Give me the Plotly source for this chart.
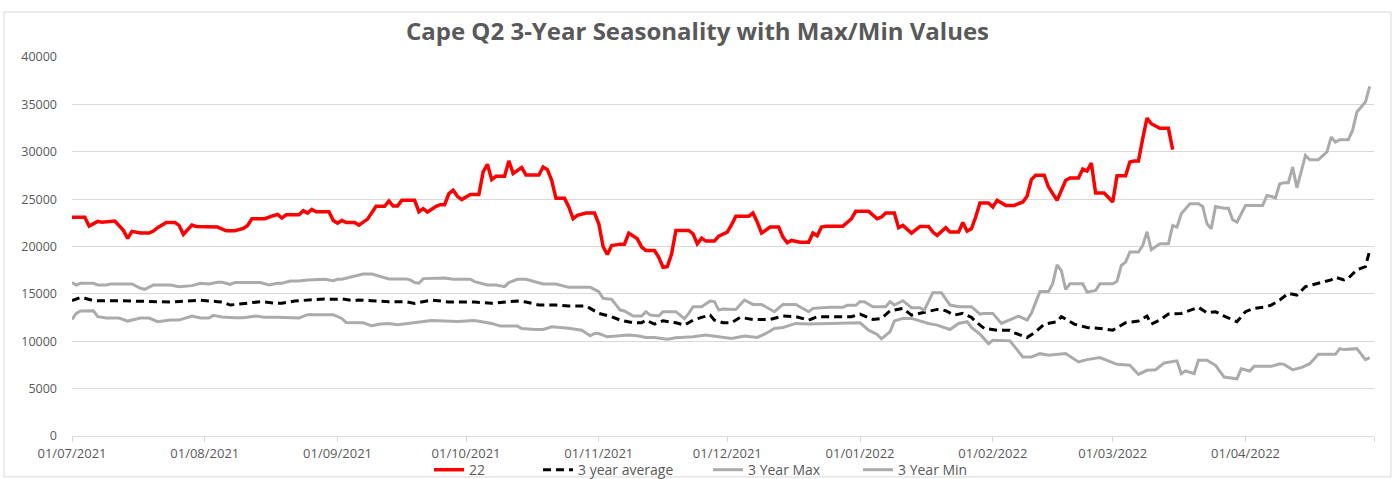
import pandas as pd
import plotly.graph_objects as go

START = "2021-07-01"  # day 0 of the season axis

# ---- series "22" (days since START, value) ----
red_days = [0, 3, 4, 6, 7, 9, 10, 12, 13, 14, 16, 18, 19, 20, 22, 24, 25, 26, 28, 29, 33, 34, 36, 38, 40, 41, 42, 45,
            47, 48, 49, 50, 53, 54, 55, 56, 57, 60, 61, 62, 63, 64, 66, 67, 69, 71, 73, 74, 75, 76, 77, 80, 81, 82, 83,
            85, 86, 87, 88, 89, 90, 91, 93, 95, 96, 97, 98, 99, 101, 102, 103, 104, 105, 106, 109, 110, 111, 112, 113,
            115, 116, 117, 118, 120, 122, 123, 124, 125, 126, 128, 129, 130, 132, 133, 134, 136, 137, 138, 139, 140,
            141, 144, 145, 146, 147, 148, 150, 151, 153, 154, 155, 158, 159, 160, 161, 163, 165, 166, 167, 168, 170,
            172, 173, 174, 175, 176, 180, 182, 183, 186, 188, 189, 190, 192, 193, 194, 195, 196, 198, 200, 201, 202,
            204, 205, 207, 208, 209, 210, 211, 212, 214, 215, 216, 218, 220, 222, 223, 224, 225, 227, 228, 229, 230,
            232, 233, 235, 236, 237, 238, 239, 241, 243, 244, 246, 247, 248, 249, 250, 251, 252, 254, 256, 257]
red_vals = [23100, 23100, 22150, 22650, 22550, 22680, 22680, 21700, 20850, 21600, 21420, 21420, 21630, 21980, 22540,
            22540, 22230, 21280, 22260, 22120, 22120, 22050, 21660, 21660, 21900, 22220, 22930, 22930, 23250, 23390,
            23000, 23350, 23350, 23780, 23530, 23920, 23670, 23670, 22750, 22470, 22750, 22540, 22540, 22260, 22890,
            24240, 24240, 24800, 24270, 24270, 24870, 24870, 23670, 23990, 23640, 24240, 24410, 24410, 25580, 25930,
            25300, 24950, 25480, 25480, 27870, 28680, 27060, 27410, 27410, 29040, 27700, 28050, 28330, 27550, 27550,
            28400, 28120, 26990, 25080, 25080, 24170, 22930, 23280, 23530, 23530, 22400, 20000, 19150, 20100, 20250,
            20250, 21410, 20810, 19930, 19580, 19580, 18870, 17810, 17880, 19220, 21690, 21690, 21340, 20280, 20880,
            20570, 20570, 21100, 21520, 22300, 23180, 23180, 23530, 22580, 21410, 22050, 22050, 20990, 20390, 20640,
            20460, 20460, 21410, 21130, 22050, 22150, 22150, 22930, 23710, 23710, 22930, 23110, 23530, 23530, 21980,
            22220, 21760, 21410, 22120, 22120, 21520, 21170, 21980, 21520, 21520, 22540, 21620, 21870, 23110, 24590,
            24590, 24170, 24870, 24340, 24340, 24700, 25300, 27060, 27520, 27520, 26280, 25500, 24870, 26970, 27220,
            27220, 28170, 27960, 28800, 25640, 25640, 24690, 27470, 27470, 28910, 29020, 29020, 31380, 33560, 32960,
            32470, 32470, 30220]

# ---- 3 year average ----
avg_days = [0, 2, 3, 5, 11, 13, 16, 19, 23, 27, 30, 34, 35, 37, 41, 44, 48, 49, 52, 55, 59, 62, 63, 66, 67, 70, 74, 78,
            80, 84, 88, 94, 98, 104, 106, 109, 113, 116, 120, 121, 123, 126, 128, 131, 133, 134, 136, 138, 141, 143,
            145, 147, 149, 150, 152, 154, 156, 159, 163, 166, 169, 172, 174, 182, 184, 187, 189, 191, 194, 196, 198,
            202, 204, 206, 208, 210, 211, 213, 216, 219, 220, 223, 225, 227, 230, 231, 234, 237, 240, 243, 246, 249,
            251, 252, 254, 256, 259, 261, 263, 265, 267, 269, 271, 272, 274, 276, 279, 280, 282, 284, 286, 288, 291,
            294, 295, 297, 298, 300, 302, 303]
avg_vals = [14280, 14630, 14530, 14280, 14280, 14250, 14250, 14140, 14140, 14250, 14320, 14180, 14140, 13820, 14070,
            14180, 14000, 14000, 14250, 14350, 14460, 14420, 14460, 14280, 14350, 14280, 14180, 14180, 14000, 14350,
            14140, 14140, 14000, 14250, 14140, 13820, 13820, 13720, 13720, 13470, 12940, 12590, 12230, 11950, 11950,
            12230, 11810, 12160, 11950, 11700, 12230, 12520, 12760, 12230, 11950, 11950, 12520, 12300, 12300, 12660,
            12590, 12230, 12590, 12590, 12870, 12300, 12410, 13220, 13470, 12760, 12940, 13360, 13220, 12760, 12940,
            12520, 12060, 11350, 11170, 11170, 10890, 10400, 11000, 11810, 12060, 12600, 11810, 11460, 11350, 11170,
            11950, 12130, 12660, 11810, 12230, 12870, 12940, 13220, 13580, 13010, 13120, 12660, 12300, 12060, 13120,
            13470, 13650, 13820, 14350, 15060, 14880, 15760, 16120, 16470, 16750, 16470, 16650, 17530, 17880, 19580]

# ---- 3 Year Max ----
max_days = [0, 1, 2, 5, 6, 8, 9, 14, 16, 17, 19, 23, 25, 27, 28, 30, 32, 34, 35, 37, 38, 44, 46, 48, 49, 51, 53, 55,
            58, 59, 61, 62, 63, 65, 66, 68, 70, 73, 74, 78, 79, 80, 81, 82, 86, 87, 89, 93, 94, 97, 99, 101, 102, 104,
            106, 109, 110, 113, 115, 116, 121, 123, 124, 126, 128, 129, 131, 133, 134, 135, 137, 138, 141, 143, 144,
            145, 147, 149, 150, 151, 152, 155, 157, 159, 161, 164, 166, 169, 172, 173, 177, 180, 181, 183, 184, 185,
            187, 190, 191, 192, 194, 196, 198, 199, 201, 203, 205, 207, 210, 212, 213, 215, 217, 219, 221, 223, 224,
            226, 228, 229, 230, 231, 232, 233, 236, 237, 239, 240, 243, 244, 245, 246, 247, 249, 250, 251, 252, 254,
            256, 257, 258, 259, 261, 263, 264, 265, 266, 267, 269, 270, 271, 272, 274, 278, 279, 280, 281, 282, 283,
            284, 285, 286, 287, 288, 289, 291, 293, 294, 295, 296, 298, 299, 300, 302, 303]
max_vals = [16190, 15940, 16120, 16120, 15940, 15940, 16050, 16050, 15590, 15480, 15940, 15940, 15760, 15870, 15870,
            16120, 16050, 16220, 16220, 16010, 16190, 16190, 15940, 16120, 16120, 16360, 16360, 16470, 16470, 16540,
            16400, 16540, 16540, 16750, 16890, 17100, 17100, 16650, 16580, 16580, 16470, 16190, 16120, 16610, 16610,
            16680, 16540, 16540, 16290, 15940, 15940, 15760, 16190, 16540, 16540, 16190, 16050, 16050, 15760, 15690,
            15690, 15230, 14530, 14420, 13290, 13190, 12660, 12660, 13120, 12760, 12660, 13120, 13120, 12380, 12940,
            13650, 13650, 14250, 14180, 13290, 13400, 13360, 14350, 13890, 13890, 13120, 13890, 13890, 13120, 13470,
            13580, 13580, 13790, 13790, 14180, 14180, 13650, 13650, 14180, 13820, 14280, 13540, 13540, 13290, 15130,
            15130, 13820, 13650, 13650, 12870, 12940, 12940, 11880, 12300, 12660, 12230, 12940, 15240, 15240, 16100,
            18060, 17470, 15460, 16060, 16060, 15180, 15360, 16060, 16060, 16340, 18000, 18350, 19410, 19410, 20110,
            21550, 19650, 20290, 20290, 22220, 22050, 23450, 24510, 24510, 24230, 22400, 21870, 24230, 24050, 24050,
            22820, 22570, 24330, 24330, 25390, 25280, 25140, 26620, 26730, 26730, 28380, 26200, 28030, 29610, 29160,
            29160, 29970, 31550, 31020, 31270, 31270, 32250, 34190, 35250, 36900]

# ---- 3 Year Min ----
min_days = [0, 1, 2, 4, 5, 6, 8, 11, 13, 16, 18, 20, 23, 25, 28, 30, 32, 33, 35, 38, 40, 43, 45, 48, 52, 53, 55, 61,
            63, 64, 68, 70, 72, 74, 76, 80, 84, 90, 94, 98, 100, 104, 105, 108, 110, 112, 116, 119, 121, 122, 123, 125,
            128, 130, 132, 134, 136, 139, 141, 145, 148, 150, 152, 154, 157, 160, 162, 164, 166, 168, 169, 172, 183,
            184, 186, 188, 189, 191, 192, 194, 196, 198, 200, 202, 205, 207, 209, 210, 212, 214, 215, 219, 220, 222,
            224, 226, 228, 232, 235, 237, 240, 244, 247, 249, 251, 253, 255, 258, 259, 260, 262, 263, 265, 267, 269,
            272, 273, 275, 276, 280, 282, 283, 285, 287, 289, 291, 295, 296, 297, 299, 300, 302, 303]
min_vals = [12300, 12940, 13190, 13190, 13220, 12590, 12450, 12450, 12130, 12450, 12450, 12060, 12230, 12230, 12660,
            12450, 12450, 12730, 12550, 12480, 12480, 12660, 12520, 12520, 12450, 12450, 12800, 12800, 12410, 11990,
            11950, 11630, 11810, 11880, 11750, 11950, 12200, 12090, 12200, 11880, 11600, 11600, 11350, 11240, 11240,
            11520, 11380, 11170, 10570, 10820, 10820, 10470, 10540, 10650, 10570, 10400, 10400, 10220, 10360, 10470,
            10650, 10540, 10400, 10290, 10540, 10400, 10820, 11350, 11450, 11700, 11880, 11810, 11880, 11950, 11170,
            10720, 10260, 11000, 12130, 12410, 12410, 12130, 11880, 11700, 11240, 11880, 12060, 11450, 10750, 9750,
            10110, 10040, 9470, 8340, 8340, 8690, 8520, 8700, 7820, 8060, 8270, 7560, 7460, 6500, 6930, 7000, 7710,
            7930, 6580, 6860, 6580, 8000, 8000, 7460, 6220, 6040, 7100, 6860, 7350, 7350, 7630, 7560, 7000, 7210,
            7630, 8620, 8620, 9220, 9120, 9220, 9220, 8060, 8270]

Y_TICKS = list(range(0, 40001, 5000))
X_END = "2022-05-01"
TITLE = "Cape Q2 3-Year Seasonality with Max/Min Values"


def to_dates(days):
    return pd.Timestamp(START) + pd.to_timedelta(days, unit="D")


FONT = "Open Sans"
GRID = "#d9d9d9"
TXT = "#595959"
GREY = "#ababab"

fig = go.Figure()
fig.add_trace(go.Scatter(x=to_dates(red_days), y=red_vals, name="22", mode="lines", legend="legend",
                         line=dict(color="#ff0000", width=3.5)))
fig.add_trace(go.Scatter(x=to_dates(avg_days), y=avg_vals, name="3 year average", mode="lines", legend="legend2",
                         line=dict(color="#000000", width=3, dash="8px,5px")))
fig.add_trace(go.Scatter(x=to_dates(max_days), y=max_vals, name="3 Year Max", mode="lines", legend="legend3",
                         line=dict(color=GREY, width=3)))
fig.add_trace(go.Scatter(x=to_dates(min_days), y=min_vals, name="3 Year Min", mode="lines", legend="legend4",
                         line=dict(color=GREY, width=3)))


def legend_box(xpos):
    return dict(orientation="h", x=xpos, xanchor="left", y=-0.09, yanchor="middle",
                bgcolor="rgba(0,0,0,0)", font=dict(family=FONT, size=14, color=TXT))


fig.update_layout(
    width=1395, height=479,
    margin=dict(l=72, r=21, t=57, b=43, autoexpand=False),
    paper_bgcolor="white", plot_bgcolor="white",
    font=dict(family=FONT, size=13, color=TXT),
    title=dict(text="<b>" + TITLE + "</b>", x=0.5, xanchor="center", y=0.933, yanchor="middle",
               font=dict(family=FONT, size=24, color=TXT)),
    showlegend=True,
    legend=legend_box(0.2742),
    legend2=legend_box(0.3579),
    legend3=legend_box(0.4885),
    legend4=legend_box(0.6037),
)
fig.update_xaxes(
    type="date", range=[START, X_END], tick0=START, dtick="M1", tickformat="%d/%m/%Y",
    showgrid=False, showline=True, linecolor=GRID, linewidth=1,
    ticks="outside", ticklen=5, tickcolor=GRID, tickfont=dict(size=13, color=TXT),
    zeroline=False, automargin=False,
)
fig.update_yaxes(
    range=[0, 40000], tickvals=Y_TICKS, tickformat="d",
    showgrid=True, gridcolor=GRID, gridwidth=1, zeroline=False, showline=False,
    ticks="", ticklabelstandoff=14, tickfont=dict(size=12.5, color=TXT), automargin=False,
)
fig.add_shape(type="rect", xref="paper", yref="paper", x0=-0.0522, x1=1.013, y0=-0.108, y1=1.1187,
              line=dict(color=GRID, width=1), fillcolor="rgba(0,0,0,0)", layer="below")

fig.write_html("out.html", config={"displayModeBar": False},
               post_script="document.body.style.margin='0px';document.body.style.overflow='hidden';")
